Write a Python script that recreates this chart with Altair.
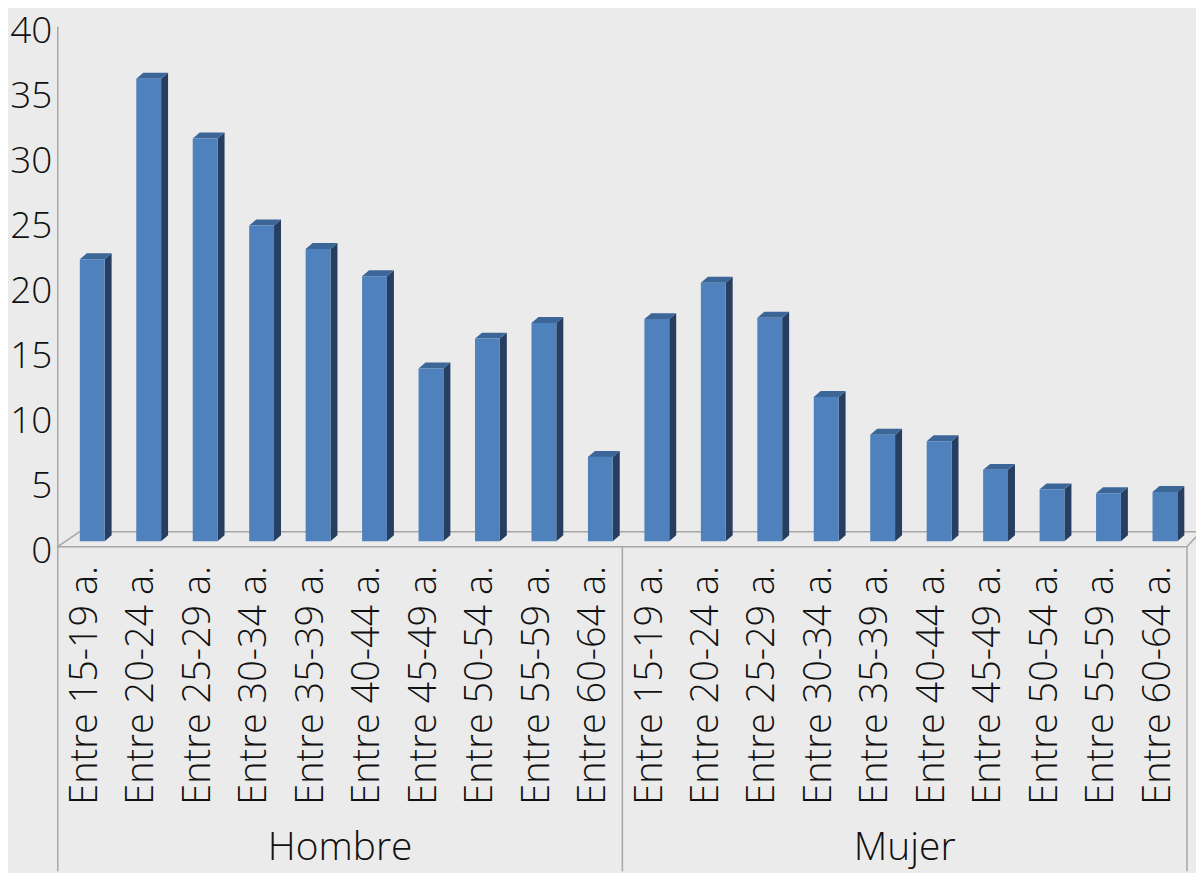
import altair as alt
import pandas as pd

# ---- data ----
age_groups = ["Entre 15-19 a.", "Entre 20-24 a.", "Entre 25-29 a.", "Entre 30-34 a.",
              "Entre 35-39 a.", "Entre 40-44 a.", "Entre 45-49 a.", "Entre 50-54 a.",
              "Entre 55-59 a.", "Entre 60-64 a."]
sexes = ["Hombre", "Mujer"]
hombre = [21.7, 35.6, 31.0, 24.3, 22.5, 20.4, 13.3, 15.6, 16.8, 6.5]
mujer = [17.1, 19.9, 17.2, 11.1, 8.2, 7.7, 5.5, 4.0, 3.7, 3.8]
y_ticks = [0, 5, 10, 15, 20, 25, 30, 35, 40]

# ---- styling constants (3D look) ----
FONT = "Open Sans"
FS = 37
FS_CAT = 38
FS_GRP = 39
FRONT, SIDE, TOP = "#4f81bd", "#263f60", "#3d6698"
LINE = "#a6a6a6"
BG = "#ebebeb"
XL, XR = 0.39, 0.83          # front face position inside each category band
DX, DY = 0.1235, 0.46        # depth offset of bars (x units, y units)
FLOOR = -0.41                # front plane of floor in y units
FLOOR_BACK = 0.74
Y_TOP, Y_BOT = 40.9, -25.38
X_MAX = 20.16

rows, side_rows, top_rows = [], [], []
n = len(age_groups)
for s_i, (sex, vals) in enumerate(zip(sexes, [hombre, mujer])):
    for a_i, (age, v) in enumerate(zip(age_groups, vals)):
        i = s_i * n + a_i
        xl, xr = i + XL, i + XR
        rows.append({"id": i, "sex": sex, "age": age, "value": v,
                     "xl": xl, "xr": xr, "xc": i + 0.5})
        side_rows += [{"id": i, "x": xr, "up": v, "lo": 0.0},
                      {"id": i, "x": xr + DX, "up": v + DY, "lo": DY}]
        top_rows += [{"id": i, "x": xl, "up": v, "lo": v},
                     {"id": i, "x": xl + DX, "up": v + DY, "lo": v},
                     {"id": i, "x": xr, "up": v + DY, "lo": v},
                     {"id": i, "x": xr + DX, "up": v + DY, "lo": v + DY}]

bars = pd.DataFrame(rows)
side = pd.DataFrame(side_rows)
top = pd.DataFrame(top_rows)

groups = pd.DataFrame({"sex": sexes, "xc": [n / 2, n + n / 2], "y": [-24.5, -24.5]})

frame = pd.DataFrame([
    {"x": 0, "x2": 0, "y": 39.6, "y2": Y_BOT},                  # left axis / table border
    {"x": n, "x2": n, "y": FLOOR, "y2": Y_BOT},                 # group divider
    {"x": 2 * n, "x2": 2 * n, "y": FLOOR, "y2": Y_BOT},         # right border
    {"x": 0, "x2": 2 * n, "y": FLOOR, "y2": FLOOR},             # front floor edge
    {"x": 0.388, "x2": X_MAX, "y": FLOOR_BACK, "y2": FLOOR_BACK},  # back floor edge
    {"x": 0, "x2": 0.388, "y": FLOOR, "y2": FLOOR_BACK},        # left floor diagonal
    {"x": 2 * n, "x2": X_MAX, "y": FLOOR, "y2": 0.35},          # right floor diagonal
])

xscale = alt.Scale(domain=[0, X_MAX], nice=False, zero=False)
yscale = alt.Scale(domain=[Y_BOT, Y_TOP], nice=False, zero=False)

y_axis = alt.Axis(
    values=y_ticks, domain=False, ticks=False, grid=False, title=None,
    labelFont=FONT, labelFontSize=FS, labelFontWeight=300, labelColor="#111111",
    labelPadding=6, labelOffset=10)

x_noaxis = dict(scale=xscale, axis=None)
y_common = dict(scale=yscale, axis=y_axis)

frame_layer = alt.Chart(frame).mark_rule(color=LINE, strokeWidth=1.5).encode(
    x=alt.X("x:Q", **x_noaxis), x2="x2:Q",
    y=alt.Y("y:Q", **y_common), y2="y2:Q",
)

front_layer = alt.Chart(bars).mark_rect(color=FRONT).encode(
    x=alt.X("xl:Q", **x_noaxis), x2="xr:Q",
    y=alt.Y("value:Q", **y_common), y2=alt.datum(0),
    tooltip=["sex", "age", "value"],
)

side_layer = alt.Chart(side).mark_area(color=SIDE, interpolate="linear").encode(
    x=alt.X("x:Q", **x_noaxis),
    y=alt.Y("up:Q", **y_common), y2="lo:Q",
    detail="id:N",
)

top_layer = alt.Chart(top).mark_area(color=TOP, interpolate="linear").encode(
    x=alt.X("x:Q", **x_noaxis),
    y=alt.Y("up:Q", **y_common), y2="lo:Q",
    detail="id:N",
)

cat_labels = alt.Chart(bars).mark_text(
    angle=270, align="right", baseline="middle", font=FONT, fontSize=FS_CAT,
    fontWeight=300, color="#111111",
).encode(
    x=alt.X("xc:Q", **x_noaxis),
    y=alt.Y("lab_y:Q", **y_common),
    text="age:N",
).transform_calculate(lab_y="-1.9")

group_labels = alt.Chart(groups).mark_text(
    align="center", baseline="alphabetic", font=FONT, fontSize=FS_GRP,
    fontWeight=300, color="#111111",
).encode(
    x=alt.X("xc:Q", **x_noaxis),
    y=alt.Y("y:Q", **y_common),
    text="sex:N",
)

chart = alt.layer(
    frame_layer, side_layer, top_layer, front_layer, cat_labels, group_labels
).properties(
    width=1143, height=865,
    autosize=alt.AutoSizeParams(type="none"),
    padding={"left": 50, "top": 0, "right": 0, "bottom": 0},
    background=BG,
).configure_view(stroke=None)

chart.save("out.html", embed_options={"renderer": "svg", "actions": False})
